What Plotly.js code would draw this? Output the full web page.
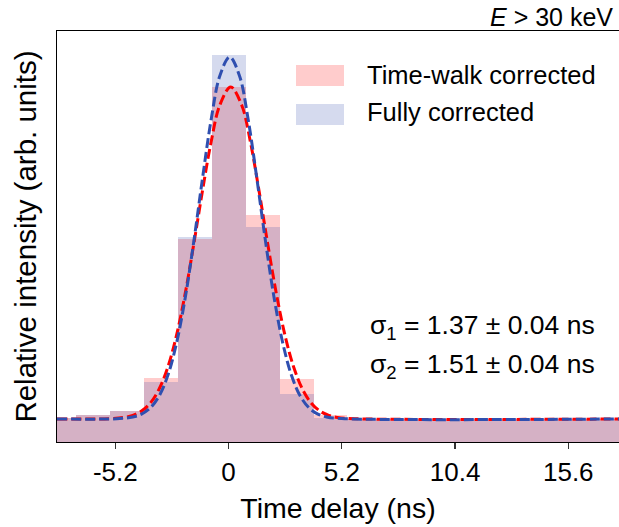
<!DOCTYPE html>
<html>
<head>
<meta charset="utf-8">
<script src="https://cdn.plot.ly/plotly-3.0.1.min.js"></script>
<style>html,body{margin:0;padding:0;background:#fff;}#chart{width:619px;height:527px;}</style>
</head>
<body>
<div id="chart"></div>
<script>
// Histogram bins (ns) and bar heights (arb. units)
const binCenters = [-7.8, -6.24, -4.68, -3.12, -1.56, 0, 1.56, 3.12, 4.68, 6.24, 7.8, 9.36, 10.92, 12.48, 14.04, 15.6, 17.16, 18.72];
const binWidth = 1.56;
const timeWalkCounts = [24.3, 27, 31.3, 63.7, 202.7, 355.3, 227, 63, 27, 23, 23, 23, 23, 23, 23, 23, 23, 23];
const fullyCounts    = [24.3, 27, 31.3, 59.7, 204.7, 387, 214.7, 48, 24, 23, 23, 23, 23, 23, 23, 23, 23, 23];

// Fitted curves
const fitTimeWalkX = [-7.88, -5.5, -4.8, -4.4, -4.0, -3.6, -3.2, -2.8, -2.4, -2.0, -1.6, -1.2, -0.8, -0.4, 0.1, 0.6, 1.0, 1.4, 1.8, 2.2, 2.6, 3.0, 3.4, 3.8, 4.2, 4.6, 5.0, 5.8, 17.93];
const fitTimeWalkY = [23, 23.3, 24.6, 26.7, 30.9, 38.8, 52.5, 74.2, 105.8, 147.6, 197.7, 251.0, 300.3, 337.0, 355, 337.0, 300.3, 251.0, 197.7, 147.6, 105.8, 74.2, 52.5, 38.8, 30.9, 26.7, 24.6, 23.3, 23];
const fitFullyX = [-7.88, -5.0, -4.4, -4.0, -3.6, -3.2, -2.8, -2.4, -2.0, -1.6, -1.2, -0.8, -0.4, 0.05, 0.5, 0.9, 1.3, 1.7, 2.1, 2.5, 2.9, 3.3, 3.7, 4.1, 4.5, 5.2, 17.93];
const fitFullyY = [23, 23.4, 25.0, 27.9, 34.0, 45.6, 65.9, 97.9, 143.0, 200.1, 263.2, 322.4, 366.3, 385, 366.3, 322.4, 263.2, 200.1, 143.0, 97.9, 65.9, 45.6, 34.0, 27.9, 25.0, 23.4, 23];

const xTickVals = [-5.2, 0, 5.2, 10.4, 15.6];
const xTickText = ['-5.2', '0', '5.2', '10.4', '15.6'];
const seriesNames = ['Time-walk corrected', 'Fully corrected'];
const sigmaLabels = ['σ<sub>1</sub> = 1.37 ± 0.04 ns', 'σ<sub>2</sub> = 1.51 ± 0.04 ns'];

const pinkFill = 'rgba(255,0,0,0.2)';
const blueFill = 'rgba(45,70,170,0.2)';
const redLine = '#ff0000';
const blueLine = '#2f4fb0';
const FONT = 'Liberation Sans, Arial, sans-serif';

const traces = [
  {type:'bar', x:binCenters, y:timeWalkCounts, width:binWidth, marker:{color:pinkFill, line:{width:0}}, name:seriesNames[0], showlegend:false, hoverinfo:'skip'},
  {type:'bar', x:binCenters, y:fullyCounts, width:binWidth, marker:{color:blueFill, line:{width:0}}, name:seriesNames[1], showlegend:false, hoverinfo:'skip'},
  {type:'scatter', mode:'lines', x:fitTimeWalkX, y:fitTimeWalkY, line:{color:redLine, width:3, dash:'10px,4px', shape:'spline'}, showlegend:false, hoverinfo:'skip'},
  {type:'scatter', mode:'lines', x:fitFullyX, y:fitFullyY, line:{color:blueLine, width:3, dash:'10px,4px', shape:'spline'}, showlegend:false, hoverinfo:'skip'}
];

const L = 57, R = 0, T = 31, B = 85, W = 619, H = 527;
const pw = W - L - R, ph = H - T - B;
const px = v => (v - L) / pw;
const py = v => (H - B - v) / ph;

const layout = {
  width: W, height: H,
  margin: {l:L, r:R, t:T, b:B, pad:0},
  paper_bgcolor:'#fff', plot_bgcolor:'#fff',
  barmode:'overlay', bargap:0,
  showlegend:false,
  font:{family:FONT, size:24, color:'#000'},
  xaxis:{
    range:[-7.88, 17.93], tickvals:xTickVals, ticktext:xTickText,
    ticks:'outside', ticklen:6, tickwidth:1.2, tickcolor:'#333',
    showline:true, linecolor:'#000', linewidth:1.3, mirror:true,
    showgrid:false, zeroline:false,
    tickfont:{family:FONT, size:26, color:'#000'},
    title:{text:'Time delay (ns)', font:{family:FONT, size:28.5, color:'#000'}, standoff:12}
  },
  yaxis:{
    range:[0, 411], showticklabels:false, ticks:'',
    showline:true, linecolor:'#000', linewidth:1.3,
    showgrid:false, zeroline:false,
    title:{text:'Relative intensity (arb. units)', font:{family:FONT, size:29.5, color:'#000'}, standoff:10}
  },
  shapes:[
    {type:'rect', xref:'paper', yref:'paper', x0:px(296), x1:px(344), y0:py(86), y1:py(65), fillcolor:pinkFill, line:{width:0}},
    {type:'rect', xref:'paper', yref:'paper', x0:px(296), x1:px(344), y0:py(125), y1:py(104), fillcolor:blueFill, line:{width:0}}
  ],
  annotations:[
    {xref:'paper', yref:'paper', x:px(365), y:py(75), xanchor:'left', yanchor:'middle', text:seriesNames[0], showarrow:false, font:{family:FONT, size:25.5, color:'#000'}},
    {xref:'paper', yref:'paper', x:px(365), y:py(112), xanchor:'left', yanchor:'middle', text:seriesNames[1], showarrow:false, font:{family:FONT, size:25.5, color:'#000'}},
    {xref:'paper', yref:'paper', x:px(368), y:py(327), xanchor:'left', yanchor:'middle', text:sigmaLabels[0], showarrow:false, font:{family:FONT, size:26.5, color:'#000'}},
    {xref:'paper', yref:'paper', x:px(368), y:py(366), xanchor:'left', yanchor:'middle', text:sigmaLabels[1], showarrow:false, font:{family:FONT, size:26.5, color:'#000'}},
    {xref:'paper', yref:'paper', x:px(615), y:py(17), xanchor:'right', yanchor:'middle', text:'<i>E</i> > 30 keV', showarrow:false, font:{family:FONT, size:25, color:'#000'}}
  ]
};

Plotly.newPlot('chart', traces, layout, {staticPlot:true, displayModeBar:false});
</script>
</body>
</html>
